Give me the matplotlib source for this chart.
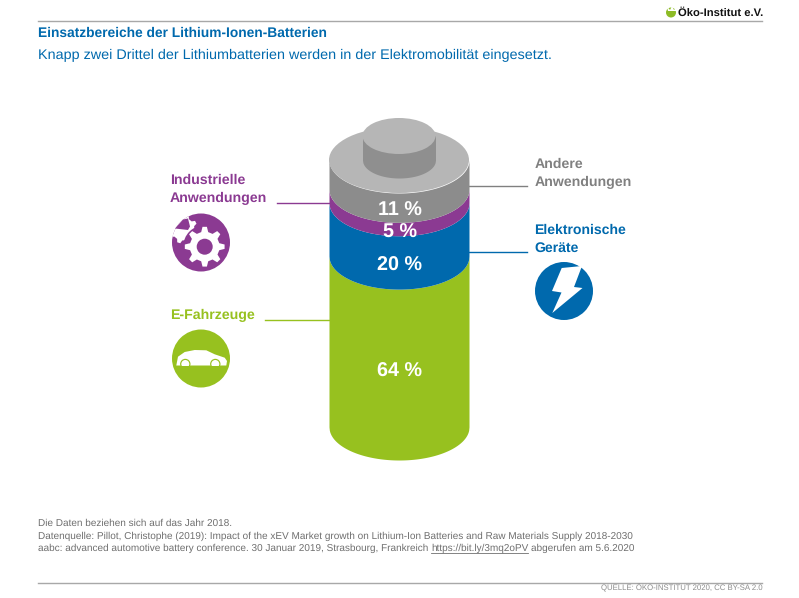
#!/usr/bin/env python3
"""Einsatzbereiche der Lithium-Ionen-Batterien - battery stack chart."""

import numpy as np
import matplotlib
matplotlib.use('Agg')
import matplotlib.pyplot as plt
from matplotlib.patches import Circle, Ellipse, Polygon, Rectangle

plt.rcParams['font.family'] = ['Liberation Sans', 'DejaVu Sans']
plt.rcParams['text.hinting'] = 'none'

W, H = 799, 598

# data, bottom to top of the battery
shares = [64, 20, 5, 11]
share_labels = ['64 %', '20 %', '5 %', '11 %']
share_colors = ['#97c11f', '#0069ad', '#8b3a92', '#8c8c8c']

title = 'Einsatzbereiche der Lithium-Ionen-Batterien'
subtitle = 'Knapp zwei Drittel der Lithiumbatterien werden in der Elektromobilität eingesetzt.'
footnotes = [
    'Die Daten beziehen sich auf das Jahr 2018.',
    'Datenquelle: Pillot, Christophe (2019): Impact of the xEV Market growth on Lithium-Ion Batteries and Raw Materials Supply 2018-2030',
    'aabc: advanced automotive battery conference. 30 Januar 2019, Strasbourg, Frankreich ',
]

fig = plt.figure(figsize=(W / 100, H / 100), dpi=100)

# page axes in pixels, y pointing down
page = fig.add_axes([0, 0, 1, 1])
page.set_xlim(0, W)
page.set_ylim(H, 0)
page.axis('off')

BLUE = '#0069ad'
GREY = '#808080'
TXT = '#6f6f6f'

page.plot([38, 762], [20.5, 20.5], color='#a8a8a8', lw=1)
page.plot([38, 762], [582.5, 582.5], color='#a8a8a8', lw=1)

page.text(38, 33.5, title, color=BLUE, fontsize=9.87, fontweight='bold', va='center')
page.text(38, 55, subtitle, color=BLUE, fontsize=10.34, va='center')

# logo
page.add_patch(Circle((671, 12.5), 5, color='#8dbb25', lw=0))
page.add_patch(Polygon([(667, 6.5), (670, 10), (672, 6), (674, 10), (677, 7), (676, 11), (668, 11)],
                       color='white', lw=0))
page.text(678.5, 13.5, 'Öko-Institut e.V.', color='#111111', fontsize=8.1, fontweight='bold', va='center')

page.text(763, 588, 'QUELLE: ÖKO-INSTITUT 2020, CC BY-SA 2.0', color='#8c8c8c',
          fontsize=5.6, ha='right', va='center')

# footnotes
for i, line in enumerate(footnotes):
    t = page.text(38, 523.5 + i * 12.4, line, color=TXT, fontsize=7.2, va='center')
fig.canvas.draw()
bb = t.get_window_extent()
link = page.text(bb.x1, 548.3, 'https://bit.ly/3mq2oPV', color=TXT, fontsize=7.2, va='center')
bb2 = link.get_window_extent()
page.plot([bb.x1, bb2.x1], [553, 553], color=TXT, lw=0.6)
page.text(bb2.x1 + 3, 548.3, 'abgerufen am 5.6.2020', color=TXT, fontsize=7.2, va='center')

# battery axes: y is percent, x is half-widths of the cylinder
# side of the stack runs from y=427px (0 %) to y=160px (100 %), x from 329 to 469 px
ax = fig.add_axes([329 / W, 1 - 427 / H, 140 / W, 267 / H])
ax.set_xlim(-1, 1)
ax.set_ylim(0, 100)
ax.axis('off')

b = 33 / 2.67  # ellipse half height in percent units
x = np.linspace(-1, 1, 400)
arc = b * np.sqrt(1 - x ** 2)
base = 0
label_y = []
for val, col in zip(shares, share_colors):
    ax.fill_between(x, base - arc, base + val - arc, color=col, lw=0, clip_on=False)
    label_y.append(base + val / 2)
    base += val

# top of the battery
ax.add_patch(Ellipse((0, 100), 2, 2 * b, color='#b6b6b6', lw=0, clip_on=False))
# terminal
tw = 36.5 / 70
tb = 18 / 2.67
t0 = 100
t1 = 100 + 24 / 2.67
tx = np.linspace(-tw, tw, 200)
tarc = tb * np.sqrt(1 - (tx / tw) ** 2)
ax.fill_between(tx, t0 - tarc, t1, color='#8f8f8f', lw=0, clip_on=False)
ax.add_patch(Ellipse((0, t1), 2 * tw, 2 * tb, color='#b6b6b6', lw=0, clip_on=False))

# labels sit in the visible front part of each band
label_offset = [-11.4, -13.7, -13.8, -13.6]
for lab, ly, off in zip(share_labels, label_y, label_offset):
    ax.text(0.012, ly + off, lab, color='white', fontsize=14.2, fontweight='bold',
            ha='center', va='center', clip_on=False)

# category labels and leaders
LS = 1.0
PURPLE = '#8b3a92'
GREEN = '#97c11f'
page.text(170, 180.5, 'Industrielle', color=PURPLE, fontsize=10.2, fontweight='bold', va='center')
page.text(170, 198.5, 'Anwendungen', color=PURPLE, fontsize=10.2, fontweight='bold', va='center')
page.plot([277, 329], [202.5, 202.5], color=PURPLE, lw=LS)

page.text(170, 315.5, 'E-Fahrzeuge', color=GREEN, fontsize=10.2, fontweight='bold', va='center')
page.plot([265, 329], [319.5, 319.5], color=GREEN, lw=LS)

page.text(535, 164, 'Andere', color=GREY, fontsize=10.2, fontweight='bold', va='center')
page.text(535, 182, 'Anwendungen', color=GREY, fontsize=10.2, fontweight='bold', va='center')
page.plot([469, 527], [185.5, 185.5], color=GREY, lw=LS)

page.text(534, 230.5, 'Elektronische', color=BLUE, fontsize=10.1, fontweight='bold', va='center')
page.text(534, 248, 'Geräte', color=BLUE, fontsize=10.1, fontweight='bold', va='center')
page.plot([469, 527], [251.5, 251.5], color=BLUE, lw=LS)


def gear(cx, cy, r_out, r_in, teeth, rot=0):
    pts = []
    step = 2 * np.pi / teeth
    for k in range(teeth):
        a = rot + k * step
        for da, r in [(-0.30, r_in), (-0.14, r_out), (0.14, r_out), (0.30, r_in)]:
            pts.append((cx + r * np.cos(a + da * step), cy + r * np.sin(a + da * step)))
    return Polygon(pts, color='white', lw=0)


# gears icon
gear_disc = Circle((201, 242.5), 29, color=PURPLE, lw=0)
page.add_patch(gear_disc)
small = gear(183, 229, 14.5, 11.5, 8, 0.3)
page.add_patch(small)
small.set_clip_path(gear_disc)
page.add_patch(Polygon([(175, 228.5), (183, 219.5), (188, 218.5), (190, 226.5), (188, 230)],
                       color=PURPLE, lw=0))
page.add_patch(Circle((204.7, 246.7), 21.5, color=PURPLE, lw=0))
page.add_patch(gear(204.7, 246.7, 20, 15, 8, -np.pi / 2))
page.add_patch(Circle((204.7, 246.7), 8, color=PURPLE, lw=0))

# car icon
page.add_patch(Circle((201, 358.5), 29, color=GREEN, lw=0))
page.add_patch(Polygon([(176.3, 365.5), (178, 356.7), (184.7, 352), (194.7, 350), (206.3, 350.3),
                        (214.7, 354.3), (224.7, 357.7), (227, 361), (226.3, 365.5)],
                       color='white', lw=0))
for cx in (185.3, 215.3):
    page.add_patch(Circle((cx, 364), 5.2, color=GREEN, lw=0))
    page.add_patch(Circle((cx, 364), 4, color='white', lw=0))
page.add_patch(Rectangle((178, 366.3), 46, 5, color=GREEN, lw=0))

# lightning icon
page.add_patch(Circle((564, 291), 29, color=BLUE, lw=0))
page.add_patch(Polygon([(561.7, 268), (582, 266), (574, 287), (582.5, 288), (552.3, 313),
                        (561.5, 292.5), (552, 291)],
                       color='white', lw=0))

fig.savefig('out.png', dpi=100)
